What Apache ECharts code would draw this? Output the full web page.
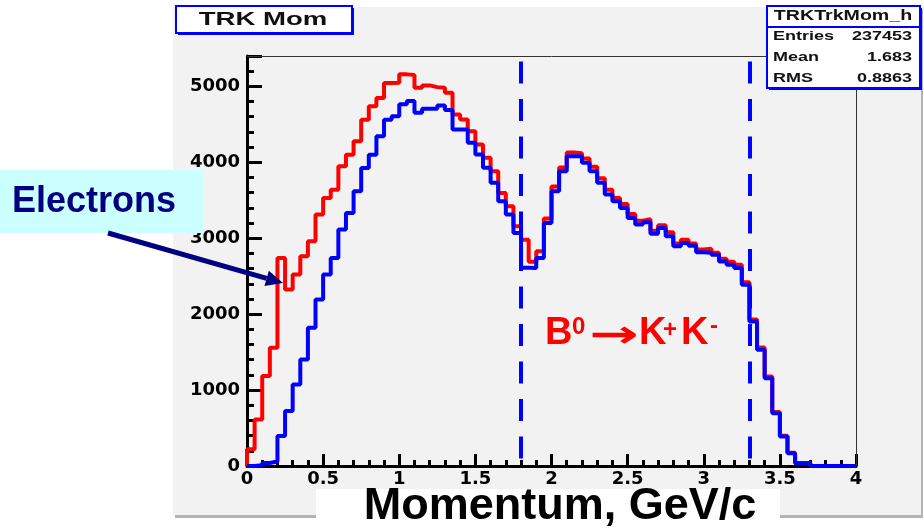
<!DOCTYPE html>
<html><head><meta charset="utf-8">
<script src="https://cdn.jsdelivr.net/npm/echarts@6/dist/echarts.min.js"></script>
<style>
html,body{margin:0;padding:0;background:#fff;}
#wrap{position:relative;width:924px;height:529px;overflow:hidden;}
#padShadow{position:absolute;left:175px;top:9px;width:748px;height:509px;background:#b4b4b4;}
#pad{position:absolute;left:173px;top:7px;width:748px;height:508px;background:#f2f2f2;}
#c,#o{position:absolute;left:0;top:0;width:924px;height:529px;}
#o{pointer-events:none;}
</style>
</head><body><div id="wrap"><div id="padShadow"></div><div id="pad"></div><div id="c"></div><div id="o"></div></div>
<script>
// Histogram: 80 bins of 0.05 GeV/c from 0 to 4
const binWidth = 0.05;
const redCounts = [
  220, 614, 1184, 1557, 2741, 2325, 2522, 2763, 2960, 3311,
  3531, 3640, 3947, 4101, 4276, 4561, 4737, 4846, 5044, 5049,
  5158, 5150, 4983, 5013, 4990, 4983, 4917, 4631, 4565, 4410,
  4235, 4059, 3883, 3597, 3421, 3157, 2981, 2690, 2830, 3260,
  3680, 3930, 4130, 4120, 4050, 3940, 3790, 3640, 3530, 3450,
  3320, 3230, 3250, 3100, 3170, 3080, 2930, 2980, 2930, 2850,
  2860, 2810, 2730, 2690, 2650, 2420, 1930, 1560, 1180, 710,
  400, 175, 40, 38, 0, 0, 0, 0, 0, 0
];
const blueCounts = [
  0, 10, 40, 60, 395, 724, 1075, 1404, 1820, 2193,
  2522, 2741, 3114, 3333, 3618, 3925, 4101, 4342, 4561, 4608,
  4763, 4806, 4653, 4705, 4705, 4749, 4690, 4433, 4433, 4257,
  4103, 3927, 3729, 3487, 3311, 3069, 2612, 2608, 2740, 3202,
  3619, 3883, 4081, 4081, 3993, 3883, 3729, 3575, 3487, 3399,
  3267, 3180, 3210, 3060, 3135, 3025, 2893, 2937, 2900, 2815,
  2810, 2783, 2695, 2651, 2608, 2388, 1904, 1530, 1157, 695,
  387, 167, 35, 35, 0, 0, 0, 0, 0, 0
];
const xRange = [0, 4];
const yRange = [0, 5400];
const cutLines = [1.8, 3.3];
const statsTitle = 'TRKTrkMom_h';
const statsRows = [['Entries', '237453'], ['Mean', '1.683'], ['RMS', '0.8863']];
const histTitle = 'TRK Mom';
const xTitle = 'Momentum, GeV/c';
const annotation = 'Electrons';

function toSteps(counts) {
  const d = [[xRange[0], 0]];
  counts.forEach((v, i) => d.push([+(xRange[0] + i * binWidth).toFixed(2), v]));
  d.push([xRange[1], counts[counts.length - 1]]);
  return d;
}

const ROOTF = 'Liberation Sans';
const G = {left: 247, right: 68, top: 56, bottom: 63};
const gx0 = G.left, gx1 = 924 - G.right, gy0 = G.top, gy1 = 529 - G.bottom;

// ---------- main chart: axes, histograms, cut lines ----------
const chart = echarts.init(document.getElementById('c'));
chart.setOption({
  animation: false,
  grid: G,
  xAxis: {
    type: 'value', min: xRange[0], max: xRange[1], interval: 0.5,
    axisLine: {show: true, lineStyle: {color: '#000', width: 3}},
    axisTick: {show: true, inside: true, length: 12, lineStyle: {color: '#000', width: 3}},
    minorTick: {show: true, splitNumber: 5, length: 6, lineStyle: {color: '#000', width: 3}},
    splitLine: {show: false},
    axisLabel: {margin: 4, fontFamily: 'DejaVu Sans', fontWeight: 'bold', fontSize: 18, color: '#000',
      formatter: v => String(v)}
  },
  yAxis: {
    type: 'value', min: yRange[0], max: yRange[1], interval: 1000,
    axisLine: {show: true, lineStyle: {color: '#000', width: 3}},
    axisTick: {show: true, inside: true, length: 15, lineStyle: {color: '#000', width: 3}},
    minorTick: {show: true, splitNumber: 5, length: 7, lineStyle: {color: '#000', width: 3}},
    splitLine: {show: false},
    axisLabel: {margin: 7, fontFamily: 'DejaVu Sans', fontWeight: 'bold', fontSize: 18, color: '#000',
      showMaxLabel: false, formatter: v => String(v)}
  },
  series: [{
    type: 'line', name: 'all tracks', data: toSteps(redCounts), step: 'end',
    showSymbol: false, symbol: 'none',
    lineStyle: {color: '#ff0000', width: 4}, itemStyle: {color: '#ff0000'}
  }, {
    type: 'line', name: 'selected', data: toSteps(blueCounts), step: 'end',
    showSymbol: false, symbol: 'none',
    lineStyle: {color: '#0000ff', width: 4}, itemStyle: {color: '#0000ff'},
    markLine: {
      silent: true, symbol: ['none', 'none'], label: {show: false},
      lineStyle: {color: '#0000ff', width: 4, type: [22, 15.5], dashOffset: 30},
      data: cutLines.map(v => ({xAxis: v}))
    }
  }]
});

// ---------- overlay: frame edges, boxes and annotations ----------
const aStart = [108, 233], aTip = [283, 283];
const dx = aTip[0] - aStart[0], dy = aTip[1] - aStart[1], L = Math.hypot(dx, dy);
const ux = dx / L, uy = dy / L, hl = 17, hw = 8;
const base = [aTip[0] - ux * hl, aTip[1] - uy * hl];

const graphics = [
  {type: 'line', shape: {x1: gx0, y1: gy0 + 0.5, x2: gx1, y2: gy0 + 0.5}, style: {stroke: '#333', lineWidth: 1}},
  {type: 'line', shape: {x1: gx1 + 0.5, y1: gy0, x2: gx1 + 0.5, y2: gy1}, style: {stroke: '#333', lineWidth: 1}},
  {type: 'rect', shape: {x: 178, y: 8, width: 176, height: 27}, style: {fill: '#0000ff'}},
  {type: 'rect', shape: {x: 176, y: 6, width: 176, height: 27}, style: {fill: '#fff', stroke: '#0000ff', lineWidth: 2}},
  {type: 'text', x: 263, y: 20, scaleX: 1.45, style: {text: histTitle, font: 'bold 19px "' + ROOTF + '"', fill: '#111', textAlign: 'center', textVerticalAlign: 'middle'}},
  {type: 'rect', shape: {x: 769, y: 8, width: 153, height: 82}, style: {fill: '#0000ff'}},
  {type: 'rect', shape: {x: 767, y: 6, width: 153, height: 82}, style: {fill: '#fff', stroke: '#0000ff', lineWidth: 2}},
  {type: 'line', shape: {x1: 767, y1: 27, x2: 920, y2: 27}, style: {stroke: '#0000ff', lineWidth: 2}},
  {type: 'text', x: 843, y: 16.5, scaleX: 1.4, style: {text: statsTitle, font: 'bold 14px "' + ROOTF + '"', fill: '#111', textAlign: 'center', textVerticalAlign: 'middle'}},
  {type: 'rect', shape: {x: 0, y: 170, width: 203, height: 63}, style: {fill: '#ccffff'}},
  {type: 'text', x: 12, y: 202, style: {text: annotation, font: 'bold 36px "' + ROOTF + '"', fill: '#000080', textAlign: 'left', textVerticalAlign: 'middle'}},
  {type: 'line', shape: {x1: aStart[0], y1: aStart[1], x2: base[0], y2: base[1]}, style: {stroke: '#000080', lineWidth: 5}},
  {type: 'polygon', shape: {points: [aTip, [base[0] - uy * hw, base[1] + ux * hw], [base[0] + uy * hw, base[1] - ux * hw]]}, style: {fill: '#000080'}},
  {type: 'text', x: 545, y: 334, style: {text: 'B', font: 'bold 38px "' + ROOTF + '"', fill: '#ff0000', textAlign: 'left', textVerticalAlign: 'middle'}},
  {type: 'text', x: 572, y: 327, style: {text: '0', font: 'bold 24px "' + ROOTF + '"', fill: '#ff0000', textAlign: 'left', textVerticalAlign: 'middle'}},
  {type: 'text', x: 614, y: 337, scaleX: 1.55, style: {text: '\u2192', font: 'bold 38px "DejaVu Sans"', fill: '#ff0000', textAlign: 'center', textVerticalAlign: 'middle'}},
  {type: 'text', x: 639, y: 334, style: {text: 'K', font: 'bold 38px "' + ROOTF + '"', fill: '#ff0000', textAlign: 'left', textVerticalAlign: 'middle'}},
  {type: 'text', x: 663, y: 330, style: {text: '+', font: 'bold 24px "' + ROOTF + '"', fill: '#ff0000', textAlign: 'left', textVerticalAlign: 'middle'}},
  {type: 'text', x: 681, y: 334, style: {text: 'K', font: 'bold 38px "' + ROOTF + '"', fill: '#ff0000', textAlign: 'left', textVerticalAlign: 'middle'}},
  {type: 'text', x: 710, y: 326, style: {text: '-', font: 'bold 24px "' + ROOTF + '"', fill: '#ff0000', textAlign: 'left', textVerticalAlign: 'middle'}},
  {type: 'rect', shape: {x: 316, y: 489, width: 464, height: 40}, style: {fill: '#fff'}},
  {type: 'text', x: 560, y: 507, style: {text: xTitle, font: 'bold 45px "' + ROOTF + '"', fill: '#000', textAlign: 'center', textVerticalAlign: 'middle'}}
];
const rowY = [37, 57.5, 79];
statsRows.forEach((r, i) => {
  graphics.push({type: 'text', x: 773, y: rowY[i], scaleX: 1.5, style: {text: r[0], font: 'bold 12px "' + ROOTF + '"', fill: '#111', textAlign: 'left', textVerticalAlign: 'middle'}});
  graphics.push({type: 'text', x: 912, y: rowY[i], scaleX: 1.5, style: {text: r[1], font: 'bold 12px "' + ROOTF + '"', fill: '#111', textAlign: 'right', textVerticalAlign: 'middle'}});
});
const overlay = echarts.init(document.getElementById('o'));
overlay.setOption({animation: false, graphic: {elements: graphics}});
</script>
</body></html>
